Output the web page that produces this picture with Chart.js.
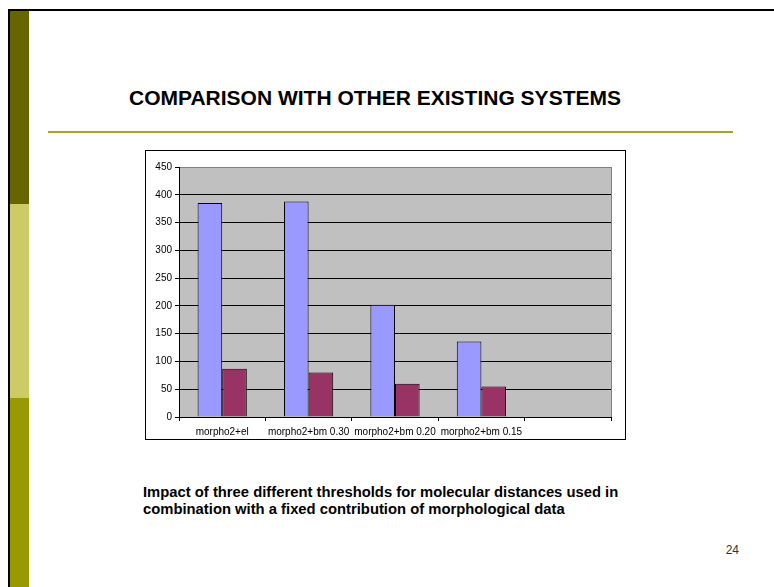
<!DOCTYPE html>
<html>
<head>
<meta charset="utf-8">
<script src="https://cdn.jsdelivr.net/npm/chart.js@4/dist/chart.umd.min.js"></script>
<style>
  html, body { margin: 0; padding: 0; background: #fff; }
  body { width: 774px; height: 587px; position: relative; overflow: hidden;
         font-family: "Liberation Sans", Arial, sans-serif; }
  .frame-top { position: absolute; left: 8px; top: 9px; width: 766px; height: 2px; background: #000; }
  .frame-left { position: absolute; left: 8px; top: 9px; width: 2px; height: 578px; background: #000; }
  .stripe { position: absolute; left: 10px; width: 19px; }
  .s1 { top: 11px; height: 193px; background: #666600; }
  .s2 { top: 204px; height: 194px; background: #CCCC66; }
  .s3 { top: 398px; height: 189px; background: #999900; }
  .title { position: absolute; left: 0; width: 750px; top: 86px; text-align: center;
           font-weight: bold; font-size: 21px; line-height: 24px; color: #000; }
  .rule { position: absolute; left: 48px; top: 131px; width: 685px; height: 2px; background: #A5A52A; }
  .chart-box { position: absolute; left: 145px; top: 150px; width: 479px; height: 288px;
               border: 1px solid #000; background: #fff; }
  .caption { position: absolute; left: 143px; top: 484px; font-weight: bold; font-size: 14.8px;
             line-height: 17px; color: #000; white-space: nowrap; }
  .pagenum { position: absolute; right: 35px; top: 544px; font-size: 12px; line-height: 12px; color: #333; }
</style>
</head>
<body>
<div class="frame-top"></div>
<div class="frame-left"></div>
<div class="stripe s1"></div>
<div class="stripe s2"></div>
<div class="stripe s3"></div>
<div class="title">COMPARISON WITH OTHER EXISTING SYSTEMS</div>
<div class="rule"></div>
<div class="chart-box"><canvas id="chart" width="479" height="288"></canvas></div>
<div class="caption">Impact of three different thresholds for molecular distances used in<br>combination with a fixed contribution of morphological data</div>
<div class="pagenum">24</div>

<script>
// Categories along the x axis (the fifth slot is left empty)
const categories = ['morpho2+el', 'morpho2+bm 0.30', 'morpho2+bm 0.20', 'morpho2+bm 0.15', ''];
// Two series of counts per configuration
const series1 = [385, 388, 202, 136, null];
const series2 = [87, 80, 60, 55, null];
// Value axis ticks
const yMin = 0;
const yMax = 450;
const yStep = 50;

const FONT = { family: '"Liberation Sans", Arial, sans-serif', size: 10 };

// Grey plot background plus a grey frame on the right edge
const plotFrame = {
  id: 'plotFrame',
  beforeDraw(chart) {
    const { ctx, chartArea: a } = chart;
    ctx.save();
    ctx.fillStyle = '#C0C0C0';
    ctx.fillRect(a.left, a.top, a.right - a.left, a.bottom - a.top);
    ctx.restore();
  },
  afterDraw(chart) {
    const { ctx, chartArea: a } = chart;
    ctx.save();
    ctx.strokeStyle = '#808080';
    ctx.lineWidth = 1;
    ctx.beginPath();
    ctx.moveTo(Math.round(a.right) + 0.5, a.top);
    ctx.lineTo(Math.round(a.right) + 0.5, a.bottom);
    ctx.stroke();
    ctx.restore();
  }
};

new Chart(document.getElementById('chart'), {
  type: 'bar',
  data: {
    labels: categories,
    datasets: [
      { label: 'Series1', data: series1, backgroundColor: '#9999FF', borderColor: '#000', borderWidth: 1 },
      { label: 'Series2', data: series2, backgroundColor: '#993366', borderColor: '#000', borderWidth: 1 }
    ]
  },
  options: {
    responsive: false,
    devicePixelRatio: 1,
    animation: false,
    layout: { padding: { left: 0, right: 14, top: 16, bottom: 0 } },
    categoryPercentage: 0.57,
    barPercentage: 1,
    plugins: { legend: { display: false }, tooltip: { enabled: false } },
    scales: {
      x: {
        grid: { display: true, drawOnChartArea: false, drawTicks: true, tickLength: 4, color: '#000', offset: true },
        border: { display: true, color: '#000', width: 1 },
        ticks: { font: FONT, color: '#000', padding: 5, maxRotation: 0, autoSkip: false },
        afterFit(scale) { scale.height = 22; }
      },
      y: {
        min: yMin,
        max: yMax,
        grid: {
          color: (c) => (c.tick && c.tick.value === yMax ? '#808080' : '#000'),
          tickColor: '#000',
          tickLength: 4,
          drawTicks: true
        },
        border: { display: true, color: '#000', width: 1 },
        ticks: { stepSize: yStep, font: FONT, color: '#000', padding: 3 },
        afterFit(scale) { scale.width = 33; }
      }
    }
  },
  plugins: [plotFrame]
});
</script>
</body>
</html>
